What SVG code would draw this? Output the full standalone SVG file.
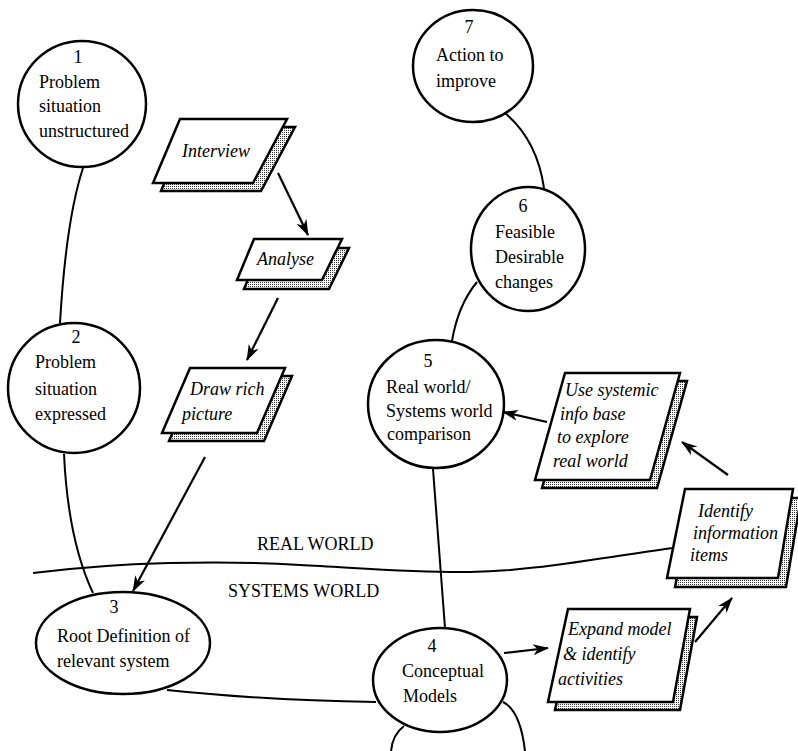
<svg xmlns="http://www.w3.org/2000/svg" width="798" height="751" viewBox="0 0 798 751">
  <style>
    .node { fill: #fff; stroke: #000; stroke-width: 2.5; }
    .lbl { font-family: "Liberation Serif", "Times New Roman", serif; font-size: 18px; fill: #000; }
    .num { text-anchor: middle; }
    .task { font-family: "Liberation Serif", "Times New Roman", serif; font-style: italic; font-size: 18px; fill: #000; }
    .box { fill: #fff; stroke: #000; stroke-width: 2.5; stroke-linejoin: miter; }
    .shadow { fill: url(#dots); stroke: #000; stroke-width: 2.5; }
    .link { fill: none; stroke: #000; stroke-width: 2; }
    .arrow { fill: none; stroke: #000; stroke-width: 2.2; marker-end: url(#head); }
    .world { font-family: "Liberation Serif", "Times New Roman", serif; font-size: 18px; fill: #000; }
  </style>
  <defs>
    <!-- fine stipple used for the drop shadows -->
    <pattern id="dots" width="2" height="2" patternUnits="userSpaceOnUse">
      <rect width="2" height="2" fill="#fff"/>
      <rect width="1" height="1" fill="#333"/>
    </pattern>
    <marker id="head" markerUnits="userSpaceOnUse" markerWidth="17" markerHeight="12" refX="15" refY="6" orient="auto">
      <path d="M0,0.5 L16,6 L0,11.5 L4.5,6 z" fill="#000"/>
    </marker>
  </defs>

  <rect width="798" height="751" fill="#fff"/>

  <!-- boundary between the two worlds -->
  <g id="horizon">
    <path class="link" d="M 33 573 C 120 562, 220 560, 300 565 C 360 568, 420 573, 470 572 C 530 571, 580 561, 673 548"/>
    <text class="world" x="257" y="550">REAL WORLD</text>
    <text class="world" x="228" y="597">SYSTEMS WORLD</text>
  </g>

  <!-- connectors -->
  <g id="connectors">
    <path class="link" d="M 83 168 Q 66 220 60 323"/>
    <path class="link" d="M 64 454 Q 68 540 93 593"/>
    <path class="link" d="M 167 690 Q 260 700 376 702"/>
    <path class="link" d="M 433 469 L 445 628"/>
    <path class="link" d="M 477 282 Q 458 305 452 341"/>
    <path class="link" d="M 505 113 Q 537 140 544 188"/>
    <path class="link" d="M 391 751 C 392 740, 396 732, 404 726"/>
    <path class="link" d="M 503 702 C 515 708, 522 725, 525 751"/>

    <path class="arrow" d="M 278 173 L 308 235"/>
    <path class="arrow" d="M 278 298 L 247 360"/>
    <path class="arrow" d="M 205 457 L 133 591"/>
    <path class="arrow" d="M 547 422 L 503 412"/>
    <path class="arrow" d="M 728 475 L 682 442"/>
    <path class="arrow" d="M 504 653 L 548 648"/>
    <path class="arrow" d="M 695 642 L 732 598"/>
  </g>

  <!-- numbered stages -->
  <g id="stage1">
    <ellipse class="node" cx="82" cy="104" rx="64" ry="63"/>
    <text class="lbl num" x="78" y="63">1</text>
    <text class="lbl" x="39" y="88">Problem</text>
    <text class="lbl" x="39" y="112">situation</text>
    <text class="lbl" x="39" y="137">unstructured</text>
  </g>
  <g id="stage2">
    <ellipse class="node" cx="74" cy="388" rx="66" ry="65"/>
    <text class="lbl num" x="76" y="343">2</text>
    <text class="lbl" x="35" y="368">Problem</text>
    <text class="lbl" x="35" y="395">situation</text>
    <text class="lbl" x="35" y="420">expressed</text>
  </g>
  <g id="stage3">
    <ellipse class="node" cx="123" cy="643" rx="87" ry="51"/>
    <text class="lbl num" x="114" y="613">3</text>
    <text class="lbl" x="57" y="642">Root Definition of</text>
    <text class="lbl" x="57" y="667">relevant system</text>
  </g>
  <g id="stage4">
    <ellipse class="node" cx="440" cy="680" rx="67" ry="52"/>
    <text class="lbl num" x="432" y="652">4</text>
    <text class="lbl" x="402" y="677">Conceptual</text>
    <text class="lbl" x="403" y="702">Models</text>
  </g>
  <g id="stage5">
    <ellipse class="node" cx="436" cy="404" rx="68" ry="64"/>
    <text class="lbl num" x="428" y="367">5</text>
    <text class="lbl" x="386" y="393">Real world/</text>
    <text class="lbl" x="386" y="417">Systems world</text>
    <text class="lbl" x="387" y="440">comparison</text>
  </g>
  <g id="stage6">
    <ellipse class="node" cx="528" cy="249" rx="57" ry="62"/>
    <text class="lbl num" x="523" y="212">6</text>
    <text class="lbl" x="495" y="238">Feasible</text>
    <text class="lbl" x="495" y="263">Desirable</text>
    <text class="lbl" x="495" y="288">changes</text>
  </g>
  <g id="stage7">
    <ellipse class="node" cx="473" cy="66" rx="60" ry="56"/>
    <text class="lbl num" x="469" y="33">7</text>
    <text class="lbl" x="436" y="61">Action to</text>
    <text class="lbl" x="436" y="87">improve</text>
  </g>

  <!-- activities -->
  <g id="interview">
    <polygon class="shadow" points="188,127 295,127 261,191 161,191"/>
    <polygon class="box" points="180,119 287,119 253,183 153,183"/>
    <text class="task" x="182" y="157">Interview</text>
  </g>
  <g id="analyse">
    <polygon class="shadow" points="261,248 349,248 329,289 244,289"/>
    <polygon class="box" points="254,239 342,239 322,280 237,280"/>
    <text class="task" x="257" y="265">Analyse</text>
  </g>
  <g id="rich-picture">
    <polygon class="shadow" points="197,376 292,376 264,441 169,441"/>
    <polygon class="box" points="190,368 285,368 257,433 162,433"/>
    <text class="task" x="190" y="395">Draw rich</text>
    <text class="task" x="182" y="420">picture</text>
  </g>
  <g id="info-base">
    <polygon class="shadow" points="572,381 687,381 657,488 542,488"/>
    <polygon class="box" points="565,373 680,373 650,480 535,480"/>
    <text class="task" x="565" y="396" font-size="19">Use systemic</text>
    <text class="task" x="560" y="420" font-size="19">info base</text>
    <text class="task" x="557" y="443" font-size="19">to explore</text>
    <text class="task" x="553" y="467" font-size="19">real world</text>
  </g>
  <g id="info-items">
    <polygon class="shadow" points="693,498 801,498 786,587 675,587"/>
    <polygon class="box" points="685,489 793,489 778,578 667,578"/>
    <text class="task" x="698" y="517" font-size="19">Identify</text>
    <text class="task" x="693" y="539" font-size="19">information</text>
    <text class="task" x="690" y="561" font-size="19">items</text>
  </g>
  <g id="expand">
    <polygon class="shadow" points="575,617 697,617 680,710 555,710"/>
    <polygon class="box" points="568,609 690,609 673,702 548,702"/>
    <text class="task" x="568" y="635">Expand model</text>
    <text class="task" x="563" y="660">&amp; identify</text>
    <text class="task" x="558" y="685">activities</text>
  </g>
</svg>
